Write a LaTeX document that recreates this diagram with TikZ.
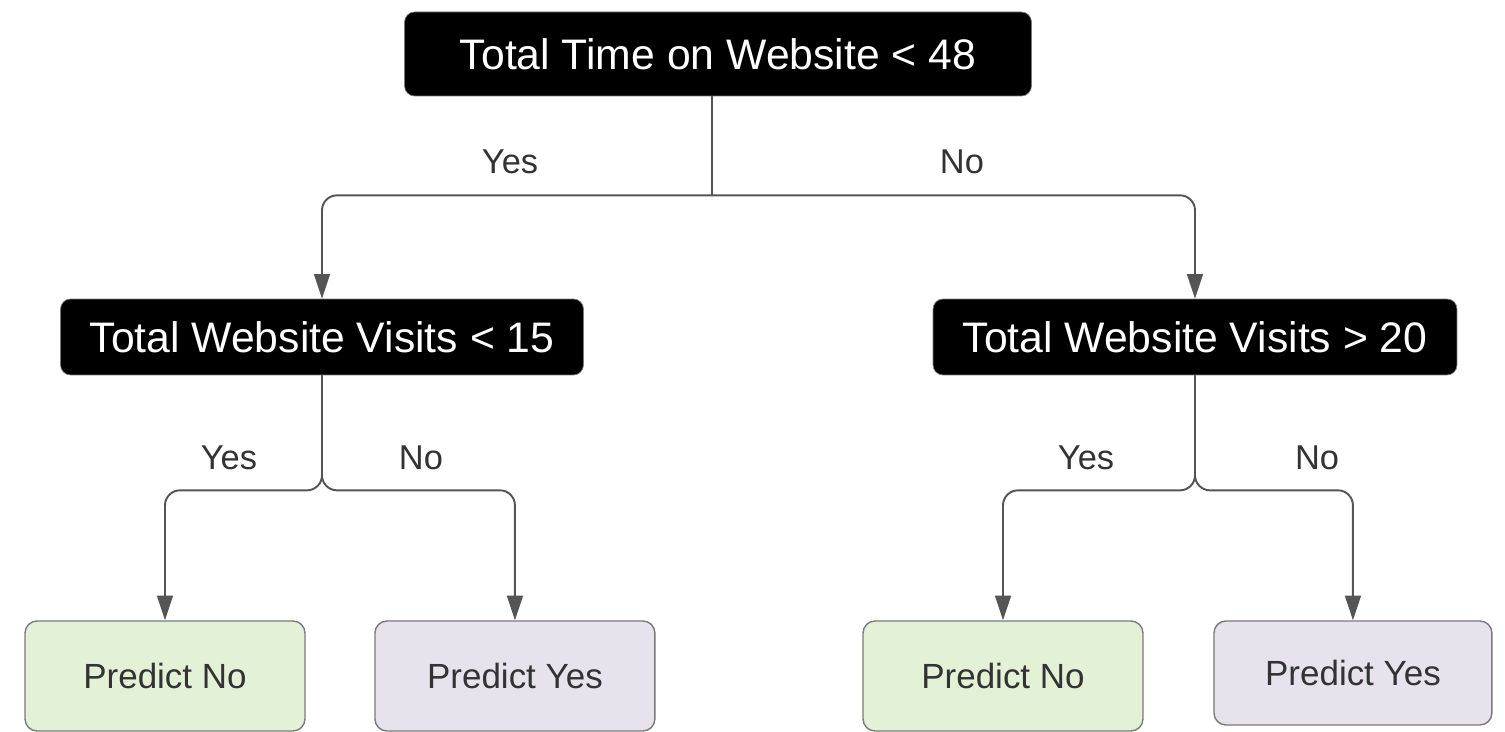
\documentclass[tikz,border=0pt]{standalone}
\usepackage{fontspec}
\setmainfont{Liberation Sans}
\usetikzlibrary{shapes,arrows.meta,positioning}
\definecolor{leafgreen}{HTML}{E3F1D7}
\definecolor{leafpurple}{HTML}{E8E2EC}
\definecolor{edgegray}{HTML}{555555}
\definecolor{framegray}{HTML}{7A7A7A}
\definecolor{textgray}{HTML}{333333}

\begin{document}
\begin{tikzpicture}[x=0.02cm, y=-0.02cm, node distance=7cm]
        \tikzstyle{split} = [rectangle, draw=framegray, fill=black, text=white, rounded corners=0.2cm, inner sep=0pt, font=\fontsize{24.3}{29}\selectfont]
        \tikzstyle{leaf} = [rectangle, draw=framegray, line width=0.8pt, rounded corners=0.24cm, minimum width=5.6cm, minimum height=2.2cm, inner sep=0pt, text=textgray, font=\fontsize{19.9}{24}\selectfont]
        \tikzstyle{line} = [draw=edgegray, line width=1.1pt, rounded corners=0.3cm, -{Triangle[length=14pt, width=9pt]}]
        \tikzstyle{stem} = [draw=edgegray, line width=1.1pt]
        \tikzstyle{answer} = [text=textgray, font=\fontsize{19.6}{23}\selectfont]

    \useasboundingbox (0,0) rectangle (1505,732);

    % decision nodes
    \node [split, minimum width=12.54cm, minimum height=1.68cm] (time) at (718,54) {Total Time on Website < 48};
    \node [split, minimum width=10.46cm, minimum height=1.52cm] (visits_low) at (322,337) {Total Website Visits < 15};
    \node [split, minimum width=10.48cm, minimum height=1.52cm] (visits_high) at (1195,337) {Total Website Visits > 20};

    % predictions
    \node [leaf, fill=leafgreen] (low_no) at (165,676) {Predict No};
    \node [leaf, fill=leafpurple, right of=low_no] (low_yes) {Predict Yes};
    \node [leaf, fill=leafgreen] (high_no) at (1003,676) {Predict No};
    \node [leaf, fill=leafpurple, right of=high_no, minimum width=5.56cm, minimum height=2.08cm, yshift=0.06cm] (high_yes) {Predict Yes};

    % top split meets in a plain T
    \coordinate (time_stem) at ([xshift=-0.12cm]time.south);
    \path (time_stem) ++(0,99) coordinate (time_split);
    \path [stem] (time_stem) -- (time_split);
    \path [line] (time_split) -| (visits_low.north);
    \path [line] (time_split) -| (visits_high.north);

    \path [line] (visits_low.south) -- ++(0,115) -| (low_no.north);
    \path [line] (visits_low.south) -- ++(0,115) -| (low_yes.north);
    \path [line] (visits_high.south) -- ++(0,115) -| (high_no.north);
    \path [line] (visits_high.south) -- ++(0,115) -| (high_yes.north);

    \node [answer] (time_yes) at (510,162) {Yes};
    \node [answer] (time_no) at (962,162) {No};
    \node [answer] (low_yes_label) at (229,458) {Yes};
    \node [answer] (low_no_label) at (421,458) {No};
    \node [answer] (high_yes_label) at (1086,458) {Yes};
    \node [answer] (high_no_label) at (1317,458) {No};

    \end{tikzpicture}
\end{document}
